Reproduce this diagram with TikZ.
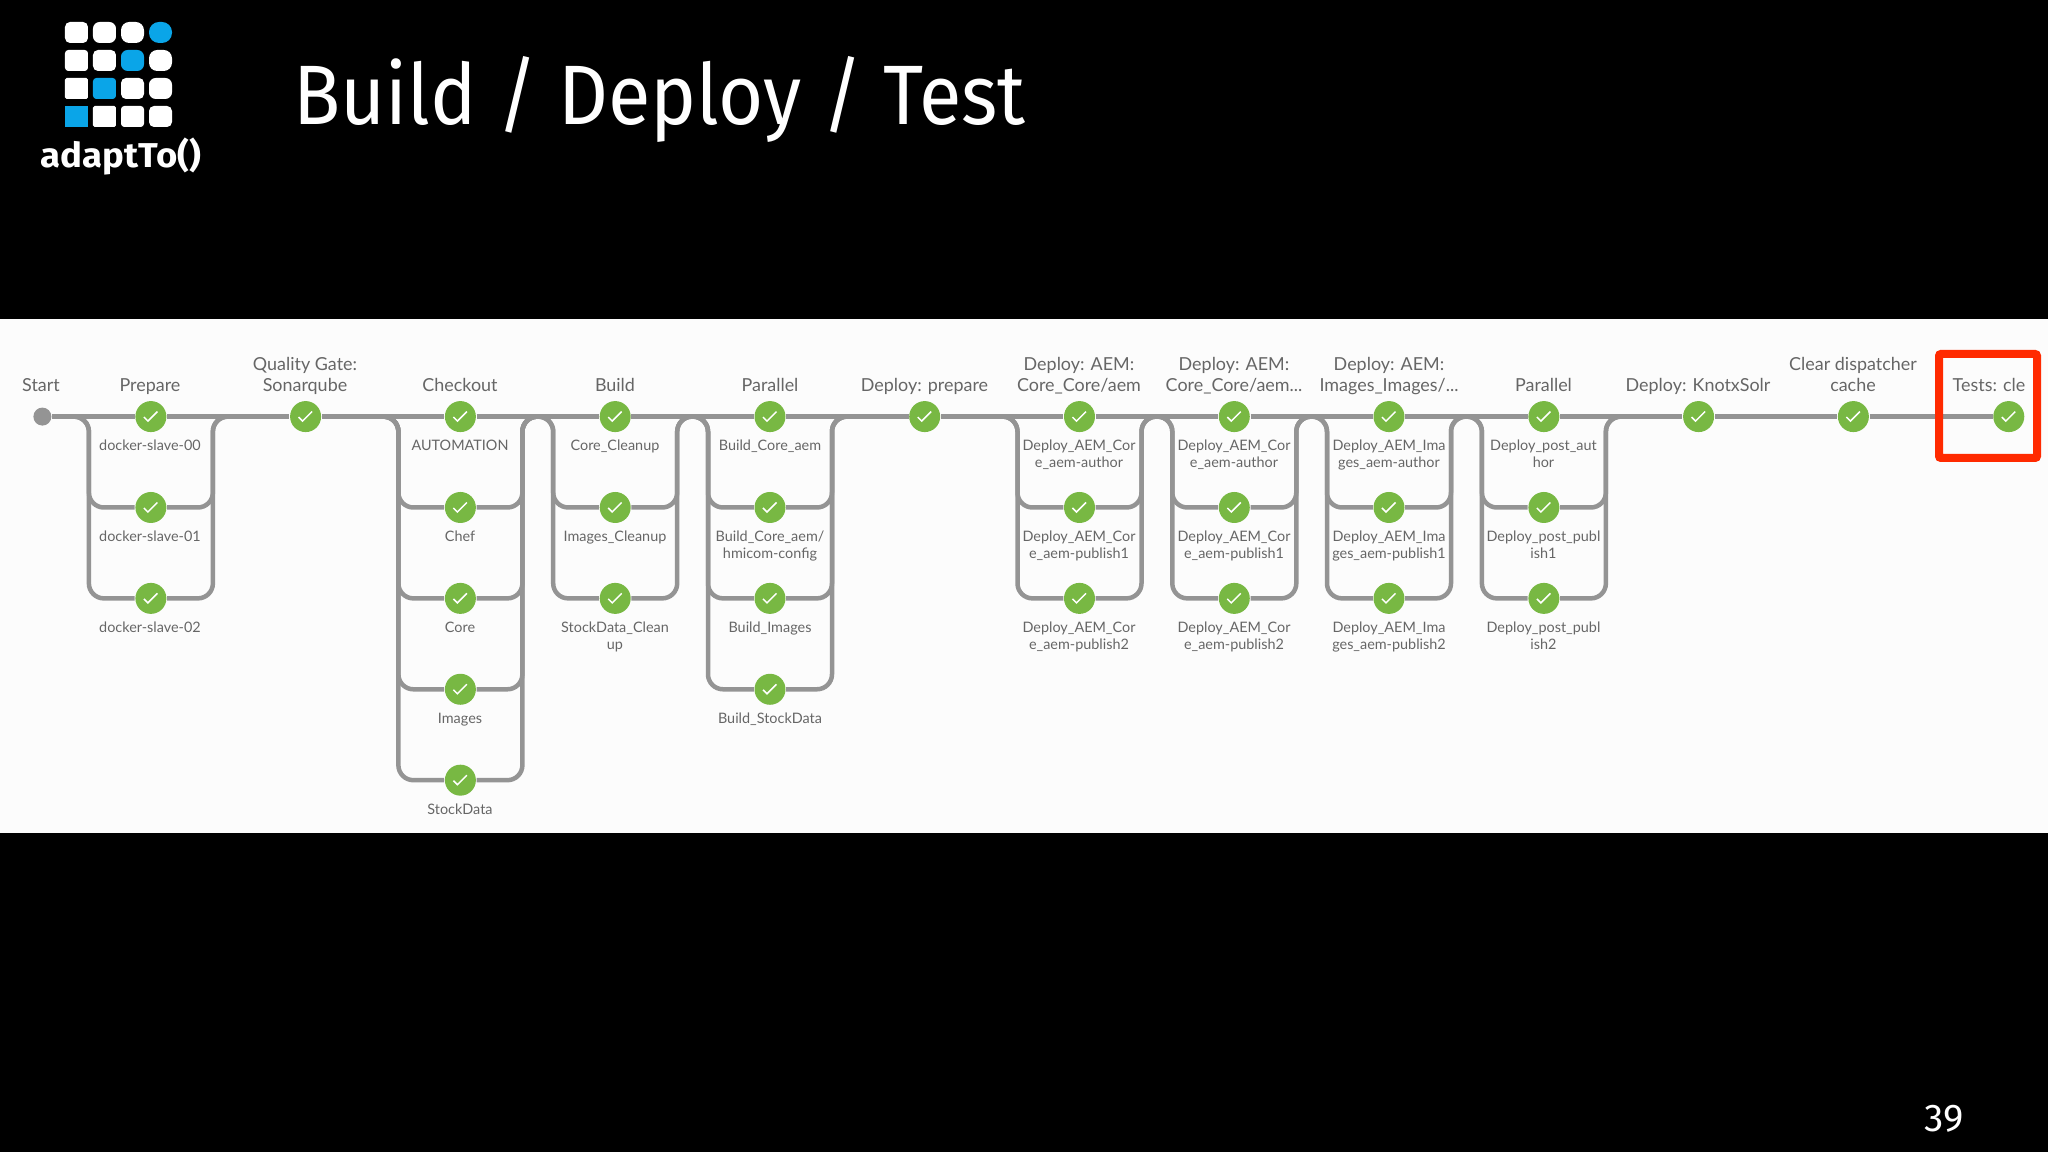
\documentclass[tikz,border=0pt]{standalone}
\usepackage{fontspec}
\setmainfont{Lato}
\newfontfamily\slidefont{Fira Sans}
\definecolor{passgreen}{HTML}{78B843}
\definecolor{pipegray}{HTML}{949494}
\definecolor{labelgray}{HTML}{666666}
\definecolor{logoblue}{HTML}{0AA5E8}
\definecolor{markred}{HTML}{FF2A00}
\tikzset{
  pipe/.style={pipegray, line width=0.045cm, rounded corners=0.15cm},
  stage/.style={circle, fill=passgreen, minimum size=0.31cm, inner sep=0pt,
    path picture={\draw[white, line width=0.015cm] ([shift={(-0.07,-0.005)}]path picture bounding box.center) -- ++(0.04,-0.04) -- ++(0.095,0.095);}},
  toplabel/.style={anchor=south, inner sep=0pt, align=center, text depth=0pt, labelgray, font=\fontsize{5.1}{5.85}\selectfont},
  sublabel/.style={anchor=north, inner sep=0pt, align=center, labelgray, font=\fontsize{4.1}{4.84}\selectfont},
}
% one branch, from the stage on the main line down to a stage below it
\newcommand{\branch}[2]{
  \draw[pipe] ([xshift=-0.77cm]#1.center) -- ([xshift=-0.62cm]#1.center) -- ([xshift=-0.62cm]#2.center) -- (#2);
  \draw[pipe] (#2) -- ([xshift=0.62cm]#2.center) -- ([xshift=0.62cm]#1.center) -- ([xshift=0.77cm]#1.center);
}
\begin{document}
\begin{tikzpicture}
  \useasboundingbox (0,0) rectangle (20.48,11.52);

  %slide
  \fill[black] (0,0) rectangle (20.48,11.52);
  \fill[white!99!black] (0,3.19) rectangle (20.48,8.33);

  %logo
  \fill[white, rounded corners=0.05cm] (0.65,11.30) rectangle ++(0.23,-0.21);
  \fill[white, rounded corners=0.067cm] (0.93,11.30) rectangle ++(0.23,-0.21);
  \fill[white, rounded corners=0.083cm] (1.21,11.30) rectangle ++(0.23,-0.21);
  \fill[logoblue, rounded corners=0.1cm] (1.49,11.30) rectangle ++(0.23,-0.21);
  \fill[white, rounded corners=0.033cm] (0.65,11.02) rectangle ++(0.23,-0.21);
  \fill[white, rounded corners=0.05cm] (0.93,11.02) rectangle ++(0.23,-0.21);
  \fill[logoblue, rounded corners=0.067cm] (1.21,11.02) rectangle ++(0.23,-0.21);
  \fill[white, rounded corners=0.083cm] (1.49,11.02) rectangle ++(0.23,-0.21);
  \fill[white, rounded corners=0.017cm] (0.65,10.74) rectangle ++(0.23,-0.21);
  \fill[logoblue, rounded corners=0.033cm] (0.93,10.74) rectangle ++(0.23,-0.21);
  \fill[white, rounded corners=0.05cm] (1.21,10.74) rectangle ++(0.23,-0.21);
  \fill[white, rounded corners=0.067cm] (1.49,10.74) rectangle ++(0.23,-0.21);
  \fill[logoblue] (0.65,10.46) rectangle ++(0.23,-0.21);
  \fill[white, rounded corners=0.017cm] (0.93,10.46) rectangle ++(0.23,-0.21);
  \fill[white, rounded corners=0.033cm] (1.21,10.46) rectangle ++(0.23,-0.21);
  \fill[white, rounded corners=0.05cm] (1.49,10.46) rectangle ++(0.23,-0.21);
  \node[anchor=base west, inner sep=0pt, white, xscale=1.06, font=\slidefont\bfseries\fontsize{9.8}{10}\selectfont] (logotext) at (0.40,9.84) {adaptTo()};

  %title
  \node[anchor=base west, inner sep=0pt, white, xscale=0.92, font=\slidefont\fontsize{24}{26}\selectfont] (title) at (2.93,10.27) {Build / Deploy / Test};
  \node[anchor=base west, inner sep=0pt, white, font=\slidefont\fontsize{11}{12}\selectfont] (pagenum) at (19.24,0.20) {39};

  %main line
  \node[circle, fill=pipegray, minimum size=0.18cm, inner sep=0pt] (start) at (0.424,7.354) {};
  \node[stage] (prep0) at (1.509,7.354) {};
  \node[stage] (gate) at (3.056,7.354) {};
  \node[stage] (chk0) at (4.604,7.354) {};
  \node[stage] (bld0) at (6.152,7.354) {};
  \node[stage] (par0) at (7.70,7.354) {};
  \node[stage] (depl) at (9.247,7.354) {};
  \node[stage] (aema0) at (10.795,7.354) {};
  \node[stage] (aemb0) at (12.343,7.354) {};
  \node[stage] (aemc0) at (13.89,7.354) {};
  \node[stage] (post0) at (15.439,7.354) {};
  \node[stage] (knotx) at (16.986,7.354) {};
  \node[stage] (clear) at (18.534,7.354) {};
  \node[stage] (tests) at (20.088,7.354) {};
  \draw[pipe] (start) -- (prep0) -- (gate) -- (chk0) -- (bld0) -- (par0) -- (depl) -- (aema0) -- (aemb0) -- (aemc0) -- (post0) -- (knotx) -- (clear) -- (tests);

  %stage names
  \node[toplabel] (startt) at (0.41,7.60) {Start};
  \node[toplabel] (prep0t) at (1.50,7.60) {Prepare};
  \node[toplabel] (gatet) at (3.05,7.60) {Quality Gate:\\Sonarqube};
  \node[toplabel] (chk0t) at (4.60,7.60) {Checkout};
  \node[toplabel] (bld0t) at (6.15,7.60) {Build};
  \node[toplabel] (par0t) at (7.70,7.60) {Parallel};
  \node[toplabel] (deplt) at (9.245,7.60) {Deploy: prepare};
  \node[toplabel] (aema0t) at (10.79,7.60) {Deploy: AEM:\\Core\_Core/aem};
  \node[toplabel] (aemb0t) at (12.34,7.60) {Deploy: AEM:\\Core\_Core/aem...};
  \node[toplabel] (aemc0t) at (13.89,7.60) {Deploy: AEM:\\Images\_Images/...};
  \node[toplabel] (post0t) at (15.435,7.60) {Parallel};
  \node[toplabel] (knotxt) at (16.98,7.60) {Deploy: KnotxSolr};
  \node[toplabel] (cleart) at (18.53,7.60) {Clear dispatcher\\cache};
  \node[toplabel] (testst) at (19.89,7.60) {Tests: cle};

  %prepare
  \node[stage] (prep1) at (1.509,6.445) {};
  \node[stage] (prep2) at (1.509,5.536) {};
  \branch{prep0}{prep1}
  \branch{prep0}{prep2}
  \node[sublabel] (prep0s) at (1.50,7.125) {docker-slave-00};
  \node[sublabel] (prep1s) at (1.50,6.215) {docker-slave-01};
  \node[sublabel] (prep2s) at (1.50,5.305) {docker-slave-02};

  %checkout
  \node[stage] (chk1) at (4.604,6.445) {};
  \node[stage] (chk2) at (4.604,5.536) {};
  \node[stage] (chk3) at (4.604,4.627) {};
  \node[stage] (chk4) at (4.604,3.718) {};
  \branch{chk0}{chk1}
  \branch{chk0}{chk2}
  \branch{chk0}{chk3}
  \branch{chk0}{chk4}
  \node[sublabel] (chk0s) at (4.60,7.125) {AUTOMATION};
  \node[sublabel] (chk1s) at (4.60,6.215) {Chef};
  \node[sublabel] (chk2s) at (4.60,5.305) {Core};
  \node[sublabel] (chk3s) at (4.60,4.395) {Images};
  \node[sublabel] (chk4s) at (4.60,3.485) {StockData};

  %build
  \node[stage] (bld1) at (6.152,6.445) {};
  \node[stage] (bld2) at (6.152,5.536) {};
  \branch{bld0}{bld1}
  \branch{bld0}{bld2}
  \node[sublabel] (bld0s) at (6.15,7.125) {Core\_Cleanup};
  \node[sublabel] (bld1s) at (6.15,6.215) {Images\_Cleanup};
  \node[sublabel] (bld2s) at (6.15,5.305) {StockData\_Clean\\up};

  %parallel
  \node[stage] (par1) at (7.70,6.445) {};
  \node[stage] (par2) at (7.70,5.536) {};
  \node[stage] (par3) at (7.70,4.627) {};
  \branch{par0}{par1}
  \branch{par0}{par2}
  \branch{par0}{par3}
  \node[sublabel] (par0s) at (7.70,7.125) {Build\_Core\_aem};
  \node[sublabel] (par1s) at (7.70,6.215) {Build\_Core\_aem/\\hmicom-config};
  \node[sublabel] (par2s) at (7.70,5.305) {Build\_Images};
  \node[sublabel] (par3s) at (7.70,4.395) {Build\_StockData};

  %deploy core
  \node[stage] (aema1) at (10.795,6.445) {};
  \node[stage] (aema2) at (10.795,5.536) {};
  \branch{aema0}{aema1}
  \branch{aema0}{aema2}
  \node[sublabel] (aema0s) at (10.79,7.125) {Deploy\_AEM\_Cor\\e\_aem-author};
  \node[sublabel] (aema1s) at (10.79,6.215) {Deploy\_AEM\_Cor\\e\_aem-publish1};
  \node[sublabel] (aema2s) at (10.79,5.305) {Deploy\_AEM\_Cor\\e\_aem-publish2};

  \node[stage] (aemb1) at (12.343,6.445) {};
  \node[stage] (aemb2) at (12.343,5.536) {};
  \branch{aemb0}{aemb1}
  \branch{aemb0}{aemb2}
  \node[sublabel] (aemb0s) at (12.34,7.125) {Deploy\_AEM\_Cor\\e\_aem-author};
  \node[sublabel] (aemb1s) at (12.34,6.215) {Deploy\_AEM\_Cor\\e\_aem-publish1};
  \node[sublabel] (aemb2s) at (12.34,5.305) {Deploy\_AEM\_Cor\\e\_aem-publish2};

  %deploy images
  \node[stage] (aemc1) at (13.89,6.445) {};
  \node[stage] (aemc2) at (13.89,5.536) {};
  \branch{aemc0}{aemc1}
  \branch{aemc0}{aemc2}
  \node[sublabel] (aemc0s) at (13.89,7.125) {Deploy\_AEM\_Ima\\ges\_aem-author};
  \node[sublabel] (aemc1s) at (13.89,6.215) {Deploy\_AEM\_Ima\\ges\_aem-publish1};
  \node[sublabel] (aemc2s) at (13.89,5.305) {Deploy\_AEM\_Ima\\ges\_aem-publish2};

  %post
  \node[stage] (post1) at (15.439,6.445) {};
  \node[stage] (post2) at (15.439,5.536) {};
  \branch{post0}{post1}
  \branch{post0}{post2}
  \node[sublabel] (post0s) at (15.435,7.125) {Deploy\_post\_aut\\hor};
  \node[sublabel] (post1s) at (15.435,6.215) {Deploy\_post\_publ\\ish1};
  \node[sublabel] (post2s) at (15.435,5.305) {Deploy\_post\_publ\\ish2};

  %red mark
  \draw[markred, line width=0.08cm, rounded corners=0.02cm] (19.39,6.94) rectangle (20.37,7.98);
\end{tikzpicture}
\end{document}
